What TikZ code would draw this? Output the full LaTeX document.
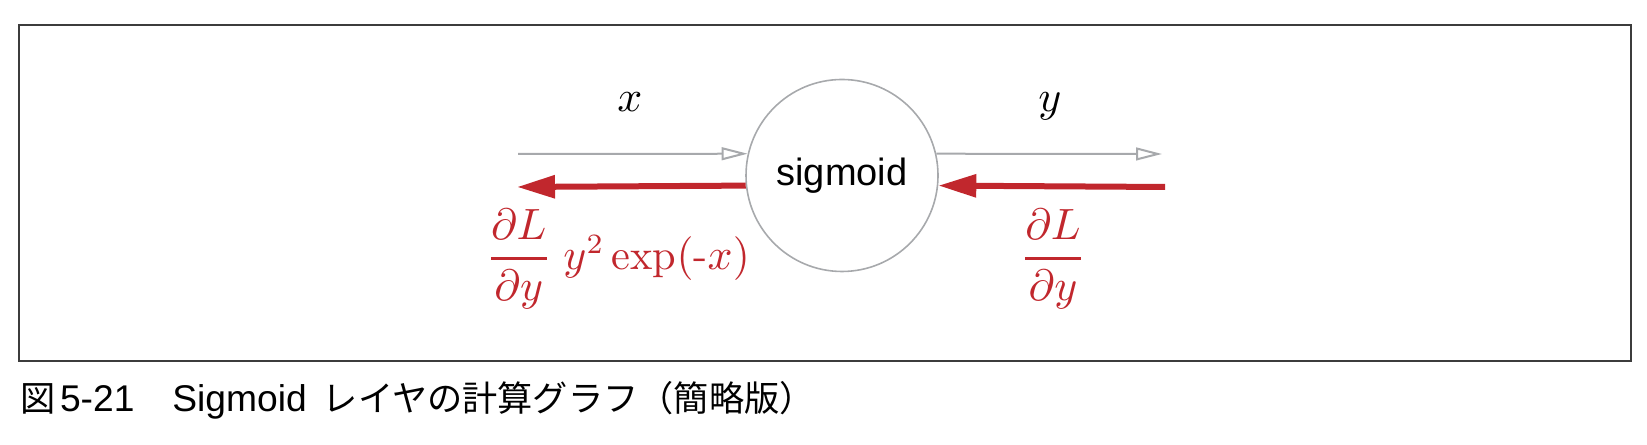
\documentclass[tikz,border=0pt]{standalone}
\usepackage{amsmath}
\usepackage{fontspec}
\setsansfont{Liberation Sans}
\newfontfamily\jpfont{Noto Sans CJK JP}
\usetikzlibrary{arrows.meta,positioning}
\definecolor{gradred}{RGB}{193,39,45}
\definecolor{flowgray}{RGB}{167,169,172}
\definecolor{framegray}{RGB}{60,60,60}
\newcommand{\dLdy}{\genfrac{}{}{0.8pt}{0}{\partial L}{\partial y}}

\begin{document}
\begin{tikzpicture}[x=0.25pt,y=-0.25pt,
    layer/.style={circle,draw=flowgray,line width=0.4pt,minimum size=48pt,inner sep=0pt,
      font=\sffamily\fontsize{9.5}{11}\selectfont},
    fwd/.style={flowgray,line width=0.5pt,-{Triangle[open,length=6.5pt,width=3.2pt]}},
    bwd/.style={gradred,line width=1.5pt,-{Triangle[length=9.5pt,width=5.5pt]}},
    lbl/.style={inner sep=0pt,font=\fontsize{11}{13}\selectfont},
    grad/.style={lbl,text=gradred,font=\fontsize{10.6}{13}\selectfont}]
        \useasboundingbox (0,0) rectangle (1647,445);

        % Draw frame
        \draw[framegray,line width=0.5pt] (19,25) rectangle (1631,361);

        % Draw sigmoid layer
        \node[layer] (sig) at (842,175.5) {sigmoid};

        % Free ends of the arrows
        \coordinate (xin) at (518,154);
        \coordinate (yout) at (1162,154);
        \coordinate (dyin) at (1165,187);
        \coordinate (dxout) at (517,187);

        % Forward pass
        \draw[fwd] (xin) -- (sig.167);
        \draw[fwd] (sig.13) -- (yout);
        \node[lbl] (xlab) at (630,102) {$x$};
        \node[lbl] (ylab) at (1050,106) {$y$};

        % Backward pass
        \draw[bwd] (dyin) -- (sig.-6.7);
        \draw[bwd] (sig.186.7) -- (dxout);
        \node[grad] (dxlab) at (618,259) {$\dLdy\;y^2\exp(\text{-}x)$};
        \node[grad] (dylab) at (1053,259) {$\dLdy$};

        % Caption
        \node[anchor=base west,inner sep=0pt,font=\sffamily\fontsize{9.3}{11}\selectfont] (cap) at (20,412)
          {{\jpfont\fontsize{8.8}{11}\selectfont 図}\hspace{1pt}5-21\hspace{9.5pt}Sigmoid\hspace{4pt}{\jpfont\fontsize{8.8}{11}\selectfont レイヤの計算グラフ（簡略版）}};

    \end{tikzpicture}
\end{document}
